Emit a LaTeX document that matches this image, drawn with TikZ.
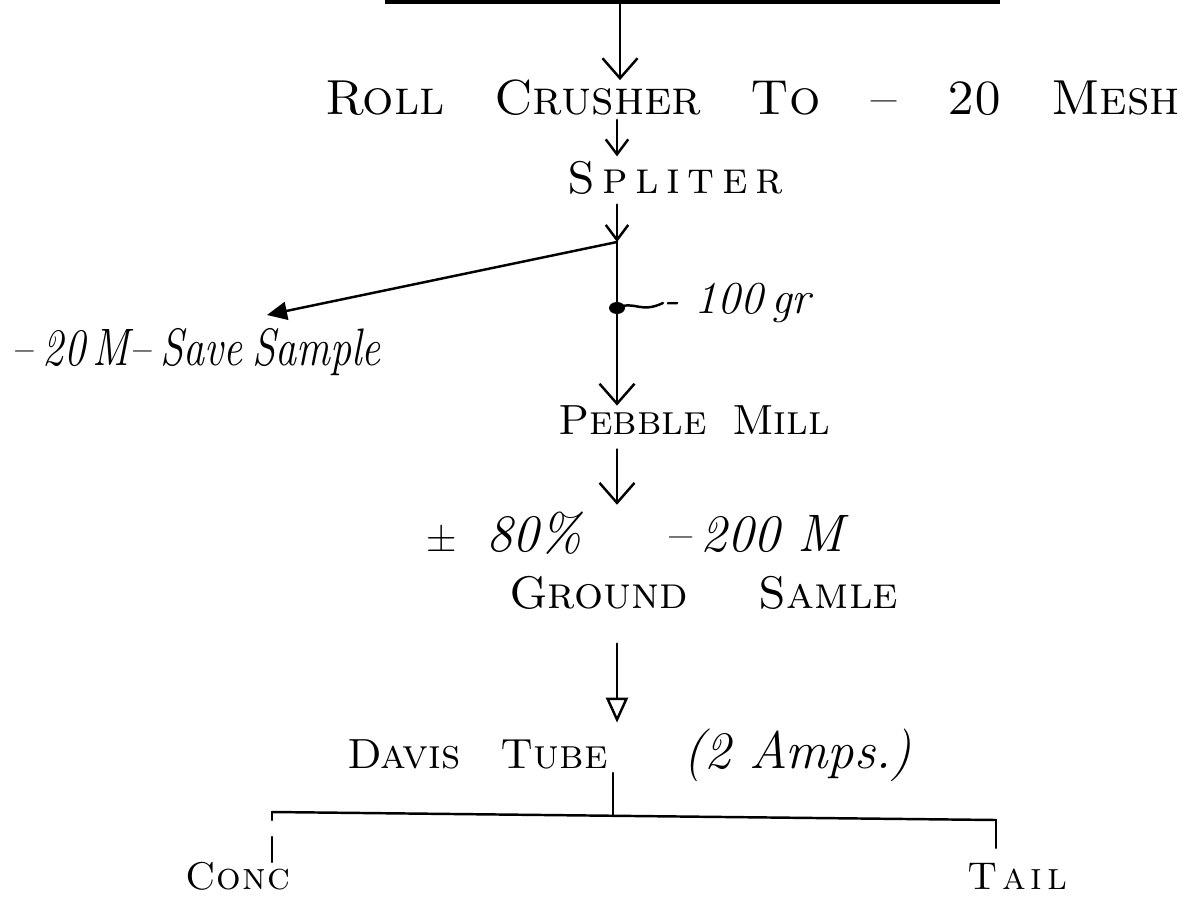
\documentclass[tikz,border=0pt]{standalone}
\usepackage{graphicx}
\usetikzlibrary{arrows.meta}
\newlength\px
\setlength\px{0.2mm}
\tikzset{
  every node/.style={inner sep=0pt, outer sep=0pt},
  flow/.style={line width=1.4pt, line cap=round, line join=round},
  topbar/.style={line width=2.2pt},
  capsbig/.style={font=\fontsize{28}{30}\selectfont\scshape},
  capsmid/.style={font=\fontsize{26}{28}\selectfont\scshape},
  capspeb/.style={font=\fontsize{24}{26}\selectfont\scshape},
  capssmall/.style={font=\fontsize{22}{24}\selectfont\scshape},
  hand/.style={font=\fontsize{24}{26}\selectfont\itshape},
  handsmall/.style={font=\fontsize{26}{28}\selectfont\itshape},
  handbig/.style={font=\fontsize{30}{32}\selectfont\itshape},
  barbbig/.style={-{Straight Barb[length=4mm,width=7mm]}},
  barbsmall/.style={-{Straight Barb[length=3mm,width=4.5mm]}},
  filledtip/.style={-{Triangle[length=4mm,width=3.6mm]}},
  opentip/.style={-{Triangle[open,length=5mm,width=4.4mm]}},
}
\begin{document}
\begin{tikzpicture}[x=0.2mm,y=-0.2mm]
\useasboundingbox (0,0) rectangle (1191,899);

% top bar
\coordinate (barL) at (385,2);
\coordinate (barR) at (1000,2);
\coordinate (t0) at (620,2);
\draw[topbar] (barL) -- (barR);

% nodes
\node[capsbig, anchor=west] (roll) at (325,98)
  {\makebox[855\px][s]{Roll\hfill Crusher\hfill To\hfill --\hfill 20\hfill Mesh}};
\node[capsmid, anchor=west] (split) at (567,178)
  {\makebox[216\px][s]{S\hfill p\hfill l\hfill i\hfill t\hfill e\hfill r}};
\coordinate (sp) at (617,242);
\coordinate (sa) at (267,315);
\node[hand, anchor=west] (save) at (12,352)
  {\scalebox{1}[1.25]{\makebox[355\px][s]{-- 20\,M-- Save Sample}}};
\coordinate (dot) at (617,308);
\node[handsmall, anchor=west] (gr) at (663,303) {- 100\,gr};
\node[capspeb, anchor=west] (pebble) at (558,420)
  {\makebox[272\px][s]{Pebble\hfill Mill}};
\node[handbig, anchor=west] (pct) at (426,533)
  {\makebox[418\px][s]{{\fontsize{24}{24}\selectfont\upshape ±}\hspace{30\px}80\%\hfill --\hspace{10\px}200\hspace{18\px}M}};
\node[capsmid, anchor=west] (ground) at (509,593)
  {\makebox[389\px][s]{Ground\hfill Samle}};
\node[anchor=west] (davis) at (347,755)
  {\makebox[565\px][s]{{\fontsize{24}{26}\selectfont\scshape Davis\hspace{40\px}Tube}\hfill{\fontsize{30}{32}\selectfont\itshape (2 Amps.)}}};
\node[capssmall, anchor=west] (conc) at (185,876)
  {\makebox[105\px][s]{C\hfill o\hfill n\hfill c}};
\node[capssmall, anchor=west] (tail) at (967,876)
  {\makebox[100\px][s]{T\hfill a\hfill i\hfill l}};

\coordinate (dstem) at (613,773);
\coordinate (busL) at (272,812);
\coordinate (busR) at (996,820);
\coordinate (bm) at (613,816);

% connectors
\draw[flow, barbbig] (t0) -- (t0 |- roll.north);
\draw[flow, barbsmall, shorten <=4\px, shorten >=5\px] (roll.south -| sp) -- (split.north -| sp);
\draw[flow, barbsmall, shorten <=10\px] (split.south -| sp) -- (sp);
\draw[flow, filledtip] (sp) -- (sa);
\draw[flow, barbbig] (sp) -- (pebble.north -| sp);
\fill (dot) ellipse [x radius=8, y radius=6];
\draw[flow] (dot) .. controls (635,300) and (640,314) .. (gr.west);
\draw[flow, barbbig, shorten <=15\px, shorten >=7\px] (pebble.south -| sp) -- (pct.north -| sp);
\draw[flow, opentip, shorten <=34\px, shorten >=6\px] (ground.south -| sp) -- (davis.north -| sp);
\draw[flow] (dstem) -- (dstem |- bm);
\draw[flow] (busL) -- (busR);
\draw[flow, dash pattern=on 8\px off 17\px on 25\px off 200\px] (busL) -- (busL |- conc.north);
\draw[flow, shorten >=15\px] (busR) -- (busR |- tail.north);
\end{tikzpicture}
\end{document}
